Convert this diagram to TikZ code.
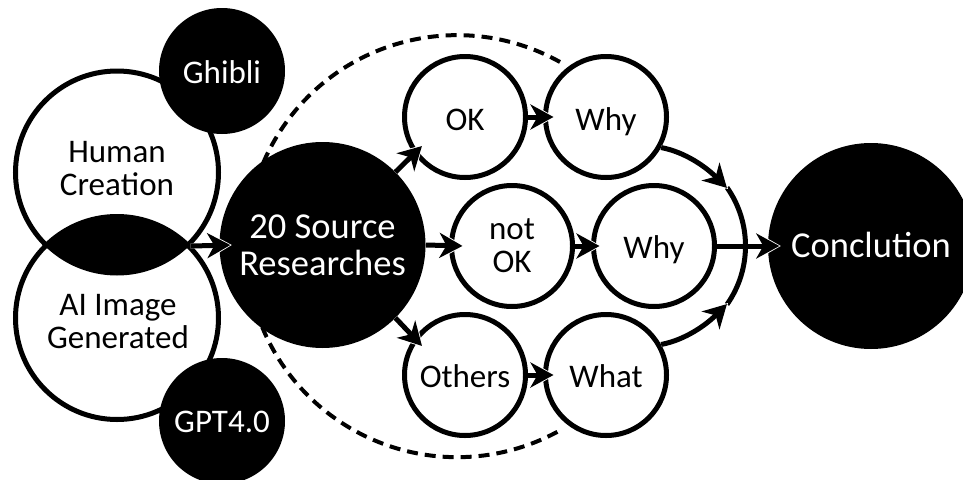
\documentclass[tikz,border=0pt]{standalone}
\usepackage{fontspec}
\setmainfont{Carlito}
\newcommand{\tilig}{{\addfontfeature{RawFeature=+dlig}ti}}
\usetikzlibrary{arrows.meta}
\tikzset{
  x=1pt,y=-1pt,
  wcirc/.style={circle,draw=black,fill=white,line width=5pt,minimum size=121pt,inner sep=0pt,align=center,font=\fontsize{33}{33}\selectfont,text=black},
  bcirc/.style={circle,draw=none,fill=black,inner sep=0pt,align=center,text=white,font=\fontsize{33}{33}\selectfont},
  small/.style={bcirc,minimum size=126pt},
  large/.style={bcirc,minimum size=206pt,font=\fontsize{36.5}{37}\selectfont},
  venn/.style={wcirc,minimum size=203pt},
  ntext/.style={font=\fontsize{33}{33}\selectfont,align=center},
  bline/.style={text height=#1,text depth=0pt},
  flow/.style={line width=5pt,draw=black,shorten >=1.5pt,
    -{Stealth[length=23pt,width=25pt,inset=7pt]},
    preaction={draw=white,shorten >=0pt,line width=5pt,-{Stealth[length=25pt,width=28pt,inset=7pt]}}},
}
\begin{document}
\begin{tikzpicture}
\useasboundingbox (0,0) rectangle (963,479);
\fill[white] (0,0) rectangle (963,479);
\draw[line width=4pt,dash pattern=on 11pt off 7pt] (560,62) arc[start angle=60.8,end angle=299.2,radius=211pt];
\node[venn] (human) at (117,172.5) {};
\node[venn] (ai) at (117,318) {};
\begin{scope}
\clip (117,172.5) circle (103pt);
\fill[black] (117,318) circle (103pt);
\end{scope}
\node[ntext] (humant) at (117,169) {Human\\Crea\tilig{}on};
\node[ntext] (ait) at (118,322) {AI Image\\Generated};
\node[small,bline=24pt] (ghibli) at (222,71) {Ghibli};
\node[small,bline=22pt] (gpt) at (222,421) {GPT4.0};
\node[large] (src) at (322.5,245) {20 Source\\Researches};
\node[wcirc,bline=27pt] (ok) at (465,117) {OK};
\node[wcirc,bline=26pt] (why1) at (606,117) {Why};
\node[wcirc] (notok) at (512,246) {not\\OK};
\node[wcirc,bline=24pt] (why2) at (654,246) {Why};
\node[wcirc,bline=24pt] (oth) at (465,375) {Others};
\node[wcirc,bline=24pt] (what) at (606,375) {What};
\node[large,bline=22pt] (conc) at (871,246) {Conclu\tilig{}on};
\coordinate (m1) at (728,189);
\coordinate (m2) at (728,303);
\draw[line width=5pt] (727,187.5) arc[start angle=35.1,end angle=-35.1,radius=101.7pt];
\draw[flow] (human.-45) -- ([xshift=12.5pt]src.west);
\draw[flow] (src.45) -- ([xshift=-42pt,yshift=-28pt]ok.center);
\draw[flow] (src.east) -- ([xshift=15pt]notok.west);
\draw[flow] (src.-45) -- ([xshift=-42pt,yshift=28pt]oth.center);
\draw[flow] (ok.east) -- ([xshift=12pt]why1.west);
\draw[flow] (notok.east) -- ([xshift=10pt]why2.west);
\draw[flow] (oth.east) -- ([xshift=12pt]what.west);
\draw[flow] (why1.-29) .. controls (685,152) and (706,167) .. (m1);
\draw[flow] (what.29) .. controls (685,340) and (706,325) .. (m2);
\draw[flow] (why2.east) -- ([xshift=13pt]conc.west);
\end{tikzpicture}
\end{document}
